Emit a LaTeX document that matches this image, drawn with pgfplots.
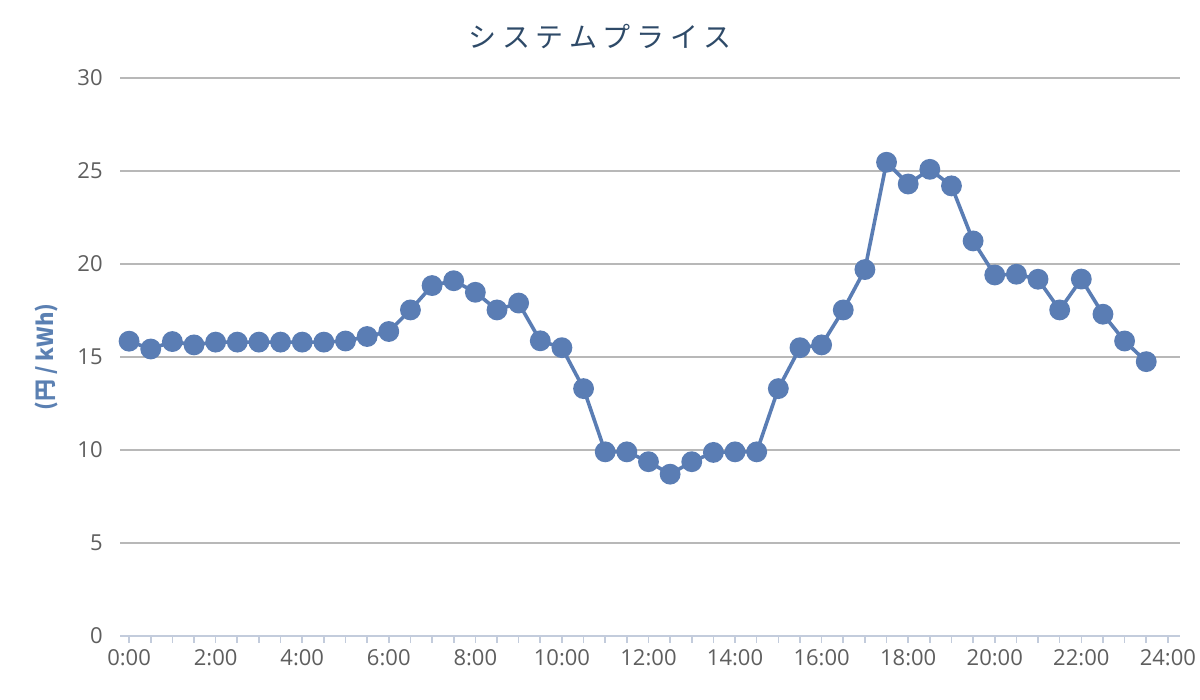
\documentclass[border=0pt]{standalone}
\usepackage{fontspec}
\setmainfont{Open Sans}
\newfontfamily\cjk{Noto Sans CJK JP}
\usepackage{pgfplots}
\pgfplotsset{compat=1.18}
\definecolor{linec}{HTML}{5A7DB4}
\definecolor{gridc}{HTML}{B8B8B8}
\definecolor{axisc}{HTML}{C3CCDC}
\definecolor{tickc}{HTML}{5E5E5E}
\definecolor{titlec}{HTML}{2E4A68}
\definecolor{ylabc}{HTML}{5B80B2}
\pgfplotstableread{
x y
0.0 15.85
0.5 15.43
1.0 15.83
1.5 15.65
2.0 15.8
2.5 15.8
3.0 15.8
3.5 15.8
4.0 15.8
4.5 15.8
5.0 15.86
5.5 16.1
6.0 16.37
6.5 17.53
7.0 18.84
7.5 19.1
8.0 18.48
8.5 17.53
9.0 17.9
9.5 15.87
10.0 15.5
10.5 13.3
11.0 9.9
11.5 9.9
12.0 9.37
12.5 8.7
13.0 9.37
13.5 9.87
14.0 9.9
14.5 9.9
15.0 13.3
15.5 15.5
16.0 15.65
16.5 17.53
17.0 19.7
17.5 25.47
18.0 24.3
18.5 25.09
19.0 24.2
19.5 21.24
20.0 19.41
20.5 19.45
21.0 19.18
21.5 17.53
22.0 19.19
22.5 17.3
23.0 15.86
23.5 14.75
}\prices
\begin{document}
\begin{tikzpicture}
\useasboundingbox (0,0) rectangle (600pt,350pt);
\begin{axis}[
  scale only axis,
  width=530pt, height=279pt,
  at={(60pt,32pt)}, anchor=south west,
  xmin=-0.21, xmax=24.28,
  ymin=0, ymax=30,
  axis x line*=bottom,
  axis y line*=left,
  x axis line style={draw=axisc, line width=1pt, -},
  y axis line style={draw=none},
  xtick={0,2,...,24},
  xticklabels={0:00,2:00,4:00,6:00,8:00,10:00,12:00,14:00,16:00,18:00,20:00,22:00,24:00},
  minor x tick num=3,
  xtick align=outside,
  x tick style={draw=axisc, line width=0.8pt},
  major tick length=3.5pt,
  minor tick length=3.5pt,
  ytick={0,5,...,30},
  y tick style={draw=none},
  ymajorgrids,
  major grid style={draw=gridc, line width=1pt},
  tick label style={font=\fontsize{11}{12}\selectfont, text=tickc},
  /pgf/number format/assume math mode=true,
  yticklabel style={anchor=east, inner sep=0pt, xshift=-8.5pt},
  xticklabel style={anchor=north, inner sep=0pt, yshift=-3pt},
  clip=false,
]
\addplot[color=linec, line width=1.8pt, mark=*, mark size=4.3pt, mark options={fill=linec, draw=none}] table[x=x,y=y] {\prices};
\end{axis}
\node[font=\cjk\fontsize{14}{15}\selectfont, text=titlec] at (300pt,331.5pt) {シ\hspace{2.8pt}ス\hspace{2.8pt}テ\hspace{2.8pt}ム\hspace{2.8pt}プ\hspace{2.8pt}ラ\hspace{2.8pt}イ\hspace{2.8pt}ス};
\node[font=\cjk\bfseries\fontsize{11}{12}\selectfont, text=ylabc, rotate=90] at (23.5pt,171.5pt) {(円 / kWh)};
\end{tikzpicture}
\end{document}
